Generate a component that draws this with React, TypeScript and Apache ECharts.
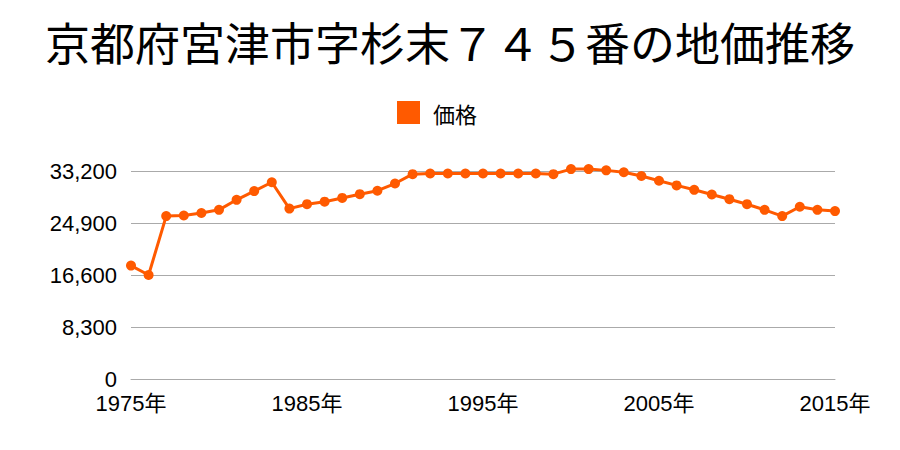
import React, { useEffect, useRef } from "react";
import * as echarts from "echarts";

const TITLE = "京都府宮津市字杉末７４５番の地価推移";
const SERIES_NAME = "価格";
const years: string[] = [];
for (let y = 1975; y <= 2015; y++) years.push(String(y));
const prices: number[] = [
  18100, 16600, 26000, 26100, 26500, 27000, 28600, 30000, 31400, 27200,
  27900, 28300, 28900, 29500, 30050, 31200, 32700, 32800, 32800, 32800,
  32800, 32800, 32800, 32800, 32700, 33500, 33500, 33300, 33000, 32400,
  31650, 30900, 30200, 29450, 28700, 27900, 27000, 26000, 27500, 27000,
  26800,
];
const yTicks: number[] = [0, 8300, 16600, 24900, 33200];

export default function App() {
  const ref = useRef<HTMLDivElement>(null);
  useEffect(() => {
    if (!ref.current) return;
    const chart = echarts.init(ref.current, undefined, { renderer: "svg" });
    const cjk = "'Noto Sans CJK JP', 'Noto Sans', sans-serif";
    const lat = "'Liberation Sans', 'Noto Sans CJK JP', sans-serif";
    chart.setOption({
      animation: false,
      textStyle: { fontFamily: cjk },
      title: {
        text: TITLE,
        left: "center",
        top: 14,
        textStyle: { fontSize: 45, fontWeight: "normal", color: "#000", fontFamily: cjk },
      },
      legend: {
        data: [SERIES_NAME],
        top: 96,
        left: 392,
        itemWidth: 23,
        itemHeight: 23,
        icon: "rect",
        textStyle: { fontSize: 22, color: "#000", fontFamily: cjk, padding: [0, 0, 0, 8] },
      },
      grid: { left: 131, right: 65, top: 171, bottom: 71 },
      xAxis: {
        type: "category",
        data: years,
        boundaryGap: false,
        axisLine: { show: true, lineStyle: { color: "#aaa" } },
        axisTick: { show: false },
        axisLabel: {
          interval: 9,
          fontSize: 22,
          color: "#000",
          margin: 13,
          fontFamily: lat,
          formatter: (v: string) => v + "年",
        },
        splitLine: { show: false },
      },
      yAxis: {
        type: "value",
        min: 0,
        max: yTicks[yTicks.length - 1],
        interval: 8300,
        axisLine: { show: false },
        axisTick: { show: false },
        axisLabel: {
          fontSize: 22,
          color: "#000",
          margin: 14,
          fontFamily: lat,
          formatter: (v: number) => v.toLocaleString("en-US"),
        },
        splitLine: { lineStyle: { color: "#aaa" } },
      },
      series: [
        {
          name: SERIES_NAME,
          type: "line",
          data: prices,
          clip: false,
          symbol: "circle",
          symbolSize: 10,
          itemStyle: { color: "#ff5a00" },
          lineStyle: { color: "#ff5a00", width: 3 },
        },
      ],
    });
    return () => chart.dispose();
  }, []);
  return <div ref={ref} style={{ width: 900, height: 450, position: "absolute", left: 0, top: 0 }} />;
}
